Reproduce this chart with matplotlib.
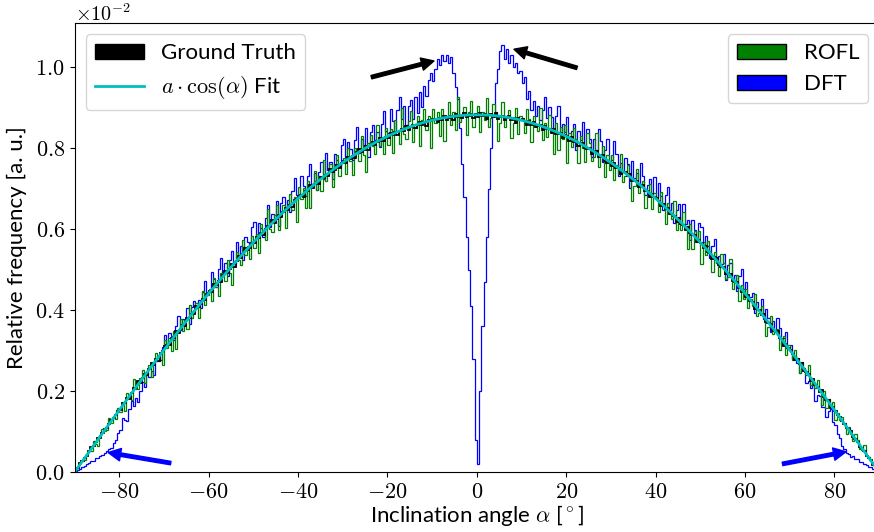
import numpy as np
import matplotlib
matplotlib.use('Agg')
import matplotlib.pyplot as plt
from matplotlib.patches import Patch
from matplotlib.lines import Line2D
from matplotlib.ticker import FuncFormatter, MultipleLocator

plt.rcParams['mathtext.fontset'] = 'cm'
plt.rcParams['font.family'] = ['Lato', 'DejaVu Sans']

# histogram values, 0.5 deg bins from -90 to 90, in units of 1e-5
ground_truth = [
    5, 10, 22, 26, 35, 39, 52, 62, 64, 73, 83, 85, 97, 106, 109, 119, 129, 133, 140, 150,
    153, 170, 171, 182, 180, 196, 207, 207, 225, 219, 232, 243, 240, 255, 268, 265, 278, 275, 294, 298,
    310, 313, 313, 330, 331, 347, 343, 354, 364, 361, 381, 381, 391, 391, 411, 407, 415, 428, 424, 440,
    446, 445, 464, 461, 471, 470, 487, 497, 492, 501, 513, 507, 522, 533, 529, 539, 552, 548, 552, 565,
    565, 580, 579, 589, 585, 599, 608, 607, 622, 615, 625, 634, 630, 642, 653, 648, 659, 654, 671, 673,
    682, 683, 680, 695, 694, 708, 701, 710, 717, 712, 729, 726, 734, 731, 748, 741, 746, 757, 750, 763,
    767, 763, 779, 773, 780, 776, 790, 797, 790, 795, 804, 795, 807, 815, 808, 814, 824, 817, 818, 828,
    824, 837, 832, 839, 831, 842, 848, 843, 855, 844, 851, 857, 849, 858, 865, 857, 864, 855, 869, 867,
    872, 870, 864, 875, 870, 880, 870, 875, 879, 869, 883, 877, 880, 874, 887, 876, 878, 885, 874, 883,
    876, 886, 879, 883, 872, 881, 884, 876, 886, 872, 876, 880, 869, 875, 880, 869, 873, 862, 873, 868,
    871, 866, 857, 866, 858, 865, 853, 855, 856, 844, 855, 846, 847, 838, 848, 835, 834, 838, 825, 831,
    829, 818, 827, 815, 815, 806, 813, 813, 799, 798, 801, 786, 791, 792, 778, 779, 782, 769, 763, 766,
    756, 762, 751, 751, 737, 742, 741, 730, 735, 718, 719, 718, 704, 706, 708, 693, 693, 678, 686, 678,
    677, 668, 656, 661, 649, 653, 637, 636, 633, 618, 626, 613, 611, 598, 605, 589, 584, 585, 568, 572,
    566, 552, 558, 543, 540, 527, 531, 528, 511, 507, 507, 488, 491, 489, 472, 470, 470, 454, 445, 445,
    433, 436, 422, 420, 403, 405, 401, 387, 390, 370, 368, 365, 348, 348, 347, 330, 328, 311, 316, 306,
    302, 291, 277, 280, 266, 268, 250, 246, 242, 225, 230, 216, 211, 197, 202, 184, 177, 177, 158, 160,
    150, 140, 137, 125, 119, 108, 105, 100, 87, 81, 75, 62, 59, 53, 40, 35, 30, 18, 10, 5,
]

rofl = [
    5, 9, 22, 26, 30, 45, 52, 51, 76, 69, 63, 91, 105, 101, 103, 133, 122, 136, 130, 157,
    147, 172, 150, 195, 189, 179, 230, 204, 205, 233, 252, 220, 243, 265, 235, 272, 293, 274, 297, 265,
    325, 307, 331, 299, 349, 304, 351, 379, 348, 376, 354, 413, 380, 394, 417, 380, 423, 446, 412, 438,
    452, 423, 478, 457, 434, 491, 487, 472, 524, 491, 462, 522, 543, 523, 512, 573, 536, 557, 527, 582,
    552, 587, 542, 613, 595, 572, 649, 601, 593, 635, 659, 598, 631, 659, 602, 659, 686, 647, 679, 617,
    704, 675, 702, 653, 718, 651, 710, 744, 696, 730, 694, 770, 719, 733, 760, 703, 757, 784, 731, 762,
    775, 735, 799, 767, 733, 801, 791, 768, 829, 782, 742, 812, 833, 804, 785, 857, 806, 828, 785, 850,
    808, 846, 788, 868, 842, 810, 898, 835, 822, 867, 891, 815, 849, 879, 806, 869, 896, 845, 879, 801,
    897, 861, 888, 829, 897, 818, 880, 913, 856, 888, 845, 926, 864, 876, 901, 833, 890, 915, 852, 882,
    905, 840, 888, 868, 924, 851, 874, 908, 888, 817, 861, 914, 853, 879, 893, 824, 863, 898, 834, 879,
    868, 838, 897, 872, 815, 880, 854, 841, 900, 820, 861, 827, 882, 849, 786, 863, 795, 851, 823, 857,
    764, 836, 803, 849, 823, 763, 830, 799, 766, 837, 813, 769, 779, 838, 753, 783, 805, 729, 782, 745,
    783, 720, 759, 737, 785, 715, 731, 759, 736, 669, 705, 748, 690, 710, 719, 653, 684, 711, 650, 688,
    674, 643, 691, 665, 612, 664, 638, 624, 670, 598, 630, 597, 641, 608, 551, 613, 551, 595, 567, 594,
    514, 568, 537, 571, 546, 493, 544, 515, 485, 538, 516, 476, 481, 525, 453, 473, 487, 423, 461, 428,
    453, 404, 428, 409, 439, 385, 393, 409, 389, 336, 358, 386, 340, 350, 353, 302, 321, 337, 289, 313,
    298, 276, 301, 281, 245, 272, 252, 239, 263, 216, 230, 207, 228, 205, 166, 200, 158, 181, 160, 172,
    129, 146, 129, 136, 122, 95, 110, 94, 77, 93, 78, 57, 55, 67, 40, 38, 30, 21, 13, 5,
]

dft = [
    2, 6, 7, 13, 15, 19, 21, 28, 27, 34, 35, 40, 42, 48, 51, 57, 60, 72, 80, 97,
    104, 133, 129, 125, 155, 175, 162, 182, 173, 200, 221, 209, 244, 234, 250, 239, 275, 276, 277, 308,
    339, 315, 344, 337, 325, 361, 386, 351, 377, 373, 405, 365, 408, 423, 405, 424, 405, 445, 471, 444,
    447, 494, 476, 457, 502, 529, 490, 516, 484, 523, 546, 514, 568, 537, 557, 524, 580, 568, 558, 604,
    618, 579, 616, 603, 581, 627, 659, 605, 638, 628, 668, 607, 664, 680, 649, 671, 641, 694, 726, 683,
    678, 731, 706, 681, 731, 761, 711, 739, 697, 741, 765, 724, 787, 746, 766, 723, 786, 770, 755, 807,
    822, 777, 816, 797, 770, 819, 852, 788, 823, 808, 850, 779, 839, 856, 819, 840, 803, 859, 892, 841,
    838, 896, 867, 839, 893, 926, 872, 903, 857, 905, 918, 872, 925, 886, 938, 902, 952, 928, 968, 985,
    965, 995, 1020, 1005, 1030, 1015, 1030, 1010, 1025, 985, 950, 920, 850, 760, 680, 580, 500, 410, 280, 80,
    20, 200, 360, 470, 580, 700, 800, 880, 960, 995, 1040, 1055, 1020, 1045, 1010, 1030, 1000, 1010, 985, 990,
    960, 975, 920, 940, 895, 915, 880, 905, 870, 895, 925, 873, 902, 876, 841, 880, 903, 835, 860, 839,
    877, 824, 841, 860, 794, 841, 821, 865, 801, 846, 822, 778, 822, 794, 848, 818, 766, 795, 822, 768,
    770, 818, 785, 731, 764, 742, 776, 761, 701, 768, 727, 738, 705, 763, 732, 684, 708, 724, 686, 728,
    674, 714, 681, 648, 685, 704, 647, 665, 615, 647, 661, 612, 661, 613, 622, 573, 623, 598, 574, 614,
    605, 560, 582, 559, 528, 559, 575, 515, 534, 514, 539, 473, 512, 516, 477, 487, 448, 484, 502, 451,
    468, 426, 433, 442, 392, 419, 400, 426, 377, 403, 381, 346, 372, 348, 381, 355, 316, 330, 345, 303,
    313, 282, 287, 269, 245, 255, 258, 220, 224, 208, 215, 175, 190, 187, 161, 161, 136, 151, 155, 124,
    115, 94, 84, 63, 57, 47, 45, 38, 39, 31, 31, 25, 24, 19, 18, 13, 12, 8, 6, 2,
]

fit_a = 0.00882  # amplitude of the a*cos(alpha) fit
unit = 1e-5

# arrows: (tail, head)
black_arrows = [((-23.6, 0.00975), (-9.6, 0.01015)), ((22.4, 0.00998), (8.3, 0.01044))]
blue_arrows = [((-68.5, 0.00022), (-82.5, 0.00048)), ((68.4, 0.00020), (82.6, 0.00050))]

edges = np.linspace(-90, 90, len(ground_truth) + 1)

fig = plt.figure(figsize=(8.74, 5.32), dpi=100)
ax = fig.add_axes([0.0854, 0.1128, 0.9204, 0.8434])

ax.stairs(np.array(dft) * unit, edges, color='b', lw=0.9)
ax.stairs(np.array(rofl) * unit, edges, color='g', lw=0.9)
ax.stairs(np.array(ground_truth) * unit, edges, color='k', lw=1.3)
alpha = np.linspace(-90, 90, 721)
ax.plot(alpha, fit_a * np.cos(np.deg2rad(alpha)), color='c', lw=2)

for (tail, head) in black_arrows:
    ax.annotate('', xy=head, xytext=tail,
                arrowprops=dict(facecolor='k', edgecolor='k', width=2.5, headwidth=9, headlength=9, shrink=0))
for (tail, head) in blue_arrows:
    ax.annotate('', xy=head, xytext=tail,
                arrowprops=dict(facecolor='b', edgecolor='b', width=2.5, headwidth=9, headlength=9, shrink=0))

ax.set_xlim(-90, 90)
ax.set_ylim(0, 0.01108)
ax.xaxis.set_major_locator(MultipleLocator(20))
ax.yaxis.set_major_locator(MultipleLocator(0.002))
ax.xaxis.set_major_formatter(FuncFormatter(lambda v, p: f'${v:.0f}$'))
ax.yaxis.set_major_formatter(FuncFormatter(lambda v, p: f'${v * 100:.1f}$'))
ax.tick_params(labelsize=16)
ax.text(0, 0.999, r'$\times10^{-2}$', transform=ax.transAxes, fontsize=14.5, ha='left', va='bottom')

ax.set_xlabel(r'Inclination angle $\alpha$ [$^\circ$]', fontsize=16, labelpad=1)
ax.set_ylabel('Relative frequency [a. u.]', fontsize=16, labelpad=6)

leg1 = ax.legend(handles=[Patch(facecolor='k', edgecolor='k', label='Ground Truth'),
                          Line2D([], [], color='c', lw=2, label=r'$a \cdot \cos(\alpha)$ Fit')],
                 loc='upper left', fontsize=16, handlelength=2.2)
ax.add_artist(leg1)
ax.legend(handles=[Patch(facecolor='g', edgecolor='k', label='ROFL'),
                   Patch(facecolor='b', edgecolor='k', label='DFT')],
          loc='upper right', fontsize=16, handlelength=2.2)

fig.savefig('out.png', dpi=100)
